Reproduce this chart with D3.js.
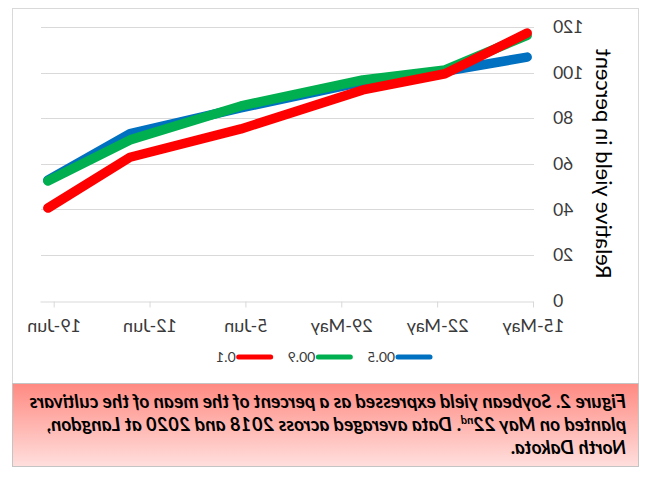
<!DOCTYPE html>
<html><head><meta charset="utf-8">
<script src="https://cdn.jsdelivr.net/npm/d3@7"></script>
<style>
html,body{margin:0;padding:0;background:#fff;}
svg{display:block;}
text{font-family:Lato,"Open Sans",sans-serif;}
</style>
</head><body>
<svg id="c" width="648" height="479"></svg>
<script>
// ----- data -----
const tickLabels = ["15-May","22-May","29-May","5-Jun","12-Jun","19-Jun"];
const tickDays = [0, 7, 14, 21, 28, 35];            // days after 15 May
const plantingDays = [0.5, 6.5, 12.5, 21.4, 29.5, 35.5];
const seriesNames = ["00.5", "00.9", "0.1"];
const yield005 = [106.8, 100.6, 96.0, 84.5, 73.2, 52.9];
const yield009 = [116.3, 101.2, 96.8, 85.4, 70.5, 52.5];
const yield01  = [117.4, 99.5, 92.4, 75.3, 62.9, 40.6];
const yTicks = [0, 20, 40, 60, 80, 100, 120];
const yTitle = "Relative yield in percent";
const captionLines = [
  ["Figure 2. Soybean yield expressed as a percent of the mean of the cultivars"],
  ["planted on May 22", "nd", ". Data averaged across 2018 and 2020 at Langdon,"],
  ["North Dakota."]
];
const colors = ["#0070C0", "#00B050", "#FF0000"];
const seriesValues = [yield005, yield009, yield01];

// ----- drawing -----
const svg = d3.select("#c");
const defs = svg.append("defs");
const grad = defs.append("linearGradient").attr("id","capg")
  .attr("x1",0).attr("y1",0).attr("x2",0).attr("y2",1);
grad.append("stop").attr("offset","0%").attr("stop-color","#FF8A82");
grad.append("stop").attr("offset","100%").attr("stop-color","#FFDFDD");

// whole picture is mirrored horizontally
const root = svg.append("g").attr("transform","translate(648,0) scale(-1,1)");

root.append("rect").attr("x",9.5).attr("y",8.5).attr("width",626).attr("height",375)
  .attr("fill","#fff").attr("stroke","#d9d9d9");

const x = d3.scaleLinear().domain([0,36]).range([114,607]);
const y = d3.scaleLinear().domain([0,120]).range([300.7,27]);

// gridlines
root.append("g").selectAll("line").data(yTicks.filter(d=>d>0)).join("line")
  .attr("x1",x(0)).attr("x2",x(36))
  .attr("y1",d=>Math.round(y(d))+0.5).attr("y2",d=>Math.round(y(d))+0.5)
  .attr("stroke","#d9d9d9").attr("stroke-width",1);

// x axis
const xa = root.append("g").attr("transform",`translate(0,${Math.round(y(0))+0.5})`)
  .call(d3.axisBottom(x).tickValues(tickDays).tickFormat((d,i)=>tickLabels[i])
        .tickSizeOuter(0).tickSizeInner(6));
xa.select(".domain").attr("stroke","#d9d9d9");
xa.selectAll(".tick line").attr("stroke","#d9d9d9");
xa.selectAll(".tick text").attr("y",30).attr("dy",0)
  .attr("font-size",18).attr("fill","#3a3a3a").attr("font-family","Lato");

// y axis labels
const ya = root.append("g").attr("transform",`translate(${x(0)},0)`)
  .call(d3.axisLeft(y).tickValues(yTicks).tickSize(0).tickPadding(19));
ya.select(".domain").remove();
ya.selectAll(".tick text").attr("font-size",17.5).attr("fill","#3a3a3a").attr("font-family","Lato");

// y title
root.append("text").attr("transform",`translate(44,${(y(0)+y(120))/2}) rotate(-90)`)
  .attr("text-anchor","middle").attr("dominant-baseline","central")
  .attr("font-size",22).attr("fill","#000").text(yTitle);

// lines
const line = d3.line().x((d,i)=>x(plantingDays[i])).y(d=>y(d));
root.append("g").selectAll("path").data(seriesValues).join("path")
  .attr("d",d=>line(d)).attr("fill","none")
  .attr("stroke",(d,i)=>colors[i]).attr("stroke-width",9.5)
  .attr("stroke-linecap","round").attr("stroke-linejoin","round");

// legend
const leg = root.append("g").attr("transform","translate(0,357)");
let lx = 216;
seriesNames.forEach((name,i)=>{
  leg.append("line").attr("x1",lx+2).attr("x2",lx+34).attr("y1",0).attr("y2",0)
    .attr("stroke",colors[i]).attr("stroke-width",5).attr("stroke-linecap","round");
  const t = leg.append("text").attr("x",lx+37).attr("y",0).attr("dy","0.35em")
    .attr("font-size",14).attr("fill","#3a3a3a").text(name);
  lx += 37 + t.node().getComputedTextLength() + 15;
});

// caption box
root.append("rect").attr("x",9.5).attr("y",383.5).attr("width",626).attr("height",83)
  .attr("fill","url(#capg)").attr("stroke","#c4c4c4");
const cap = root.append("g").attr("font-style","italic").attr("font-weight","bold").attr("fill","#000");
const baselines = [408, 431, 454];
const texts = captionLines.map((parts,i)=>{
  const t = cap.append("text").attr("x",22).attr("y",baselines[i]).attr("font-size",16);
  parts.forEach((p,j)=>{
    const ts = t.append("tspan").text(p);
    if (parts.length===3 && j===1) ts.attr("font-size",10).attr("dy",-7);
    if (parts.length===3 && j===2) ts.attr("dy",7);
  });
  return t;
});
// fit the first caption line to the caption box width
const w0 = texts[0].node().getComputedTextLength();
const fs = 16 * 597 / w0;
texts.forEach(t=>t.attr("font-size",fs));
texts[1].selectAll("tspan").filter((d,j)=>j===1).attr("font-size",fs*0.6);
</script>
</body></html>
